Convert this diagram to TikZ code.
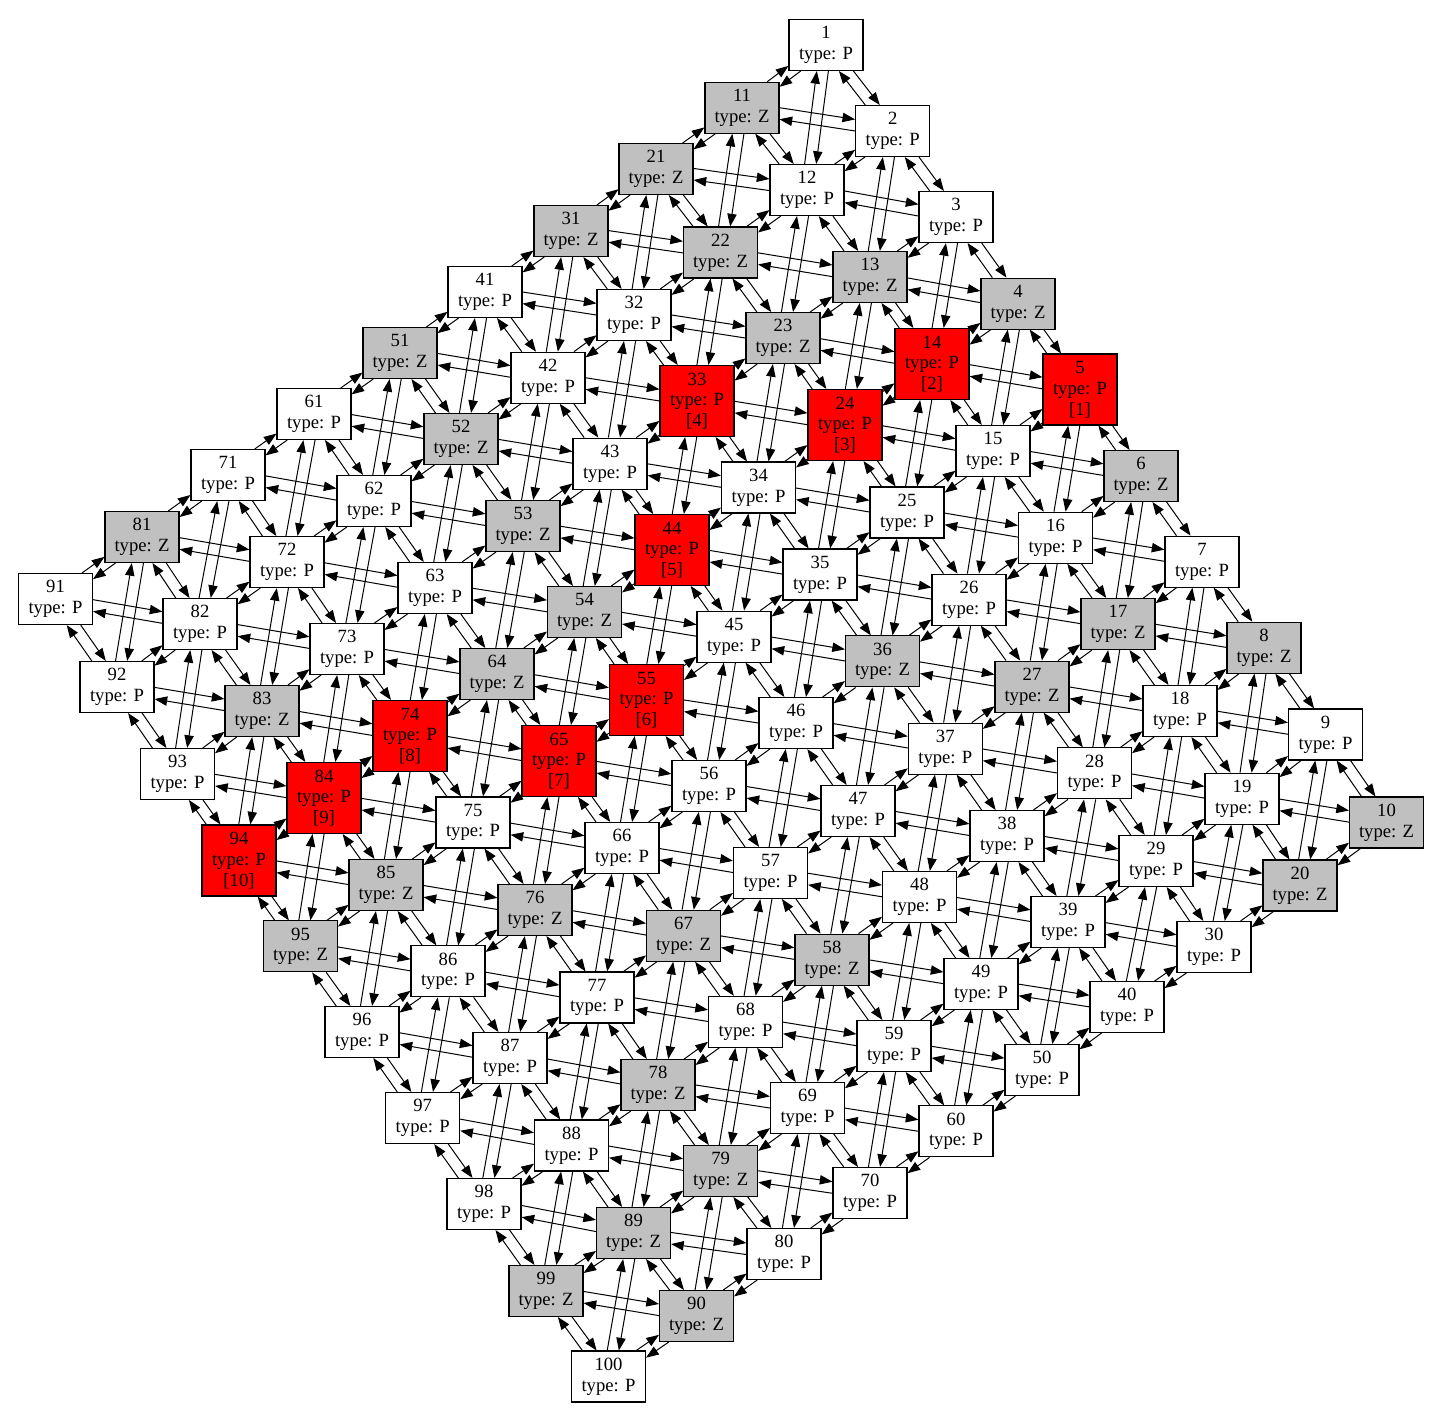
\documentclass[tikz,border=0pt]{standalone}
\usepackage{fontspec}
\setmainfont{Liberation Serif}
\usetikzlibrary{arrows.meta,calc}
\def\eoff{4.3}
\newcommand\onedge[2]{%
  \pgfpointanchor{n#1}{center}\pgfgetlastxy{\eAx}{\eAy}%
  \pgfpointanchor{n#1}{north east}\pgfgetlastxy{\eAX}{\eAY}%
  \pgfpointanchor{n#2}{center}\pgfgetlastxy{\eBx}{\eBy}%
  \pgfpointanchor{n#2}{north east}\pgfgetlastxy{\eBX}{\eBY}%
  \pgfmathsetmacro\eWa{\eAX-\eAx}%
  \pgfmathsetmacro\eHa{\eAY-\eAy}%
  \pgfmathsetmacro\eWb{\eBX-\eBx}%
  \pgfmathsetmacro\eHb{\eBY-\eBy}%
  \pgfmathsetmacro\eDx{\eBx-\eAx}%
  \pgfmathsetmacro\eDy{\eBy-\eAy}%
  \pgfmathsetmacro\eL{veclen(\eDx,\eDy)}%
  \pgfmathsetmacro\eUx{(\eDx)/(\eL)}%
  \pgfmathsetmacro\eUy{(\eDy)/(\eL)}%
  \pgfmathsetmacro\eNx{0-(\eUy)*\eoff}%
  \pgfmathsetmacro\eNy{(\eUx)*\eoff}%
  \pgfmathsetmacro\eSx{(\eUx)>0?1:-1}%
  \pgfmathsetmacro\eSy{(\eUy)>0?1:-1}%
  \pgfmathsetmacro\eAUx{max(abs(\eUx),0.01)}%
  \pgfmathsetmacro\eAUy{max(abs(\eUy),0.01)}%
  \pgfmathsetmacro\eTa{min(((\eWa)-(\eSx)*(\eNx))/(\eAUx),((\eHa)-(\eSy)*(\eNy))/(\eAUy))}%
  \pgfmathsetmacro\eTb{min(((\eWb)+(\eSx)*(\eNx))/(\eAUx),((\eHb)+(\eSy)*(\eNy))/(\eAUy))}%
  \draw[conn,shorten <=\eTa pt,shorten >=\eTb pt]
    ([shift={(\eNx pt,\eNy pt)}]n#1.center) -- ([shift={(\eNx pt,\eNy pt)}]n#2.center);%
}
\newcommand\biedge[2]{\onedge{#1}{#2}\onedge{#2}{#1}}
\tikzset{
  gbox/.style={rectangle,draw=black,line width=0.8pt,minimum width=55.5pt,minimum height=38.25pt,
    inner sep=0pt,align=center,font=\fontsize{14pt}{15.5pt}\selectfont},
  boxP/.style={gbox,fill=white},
  boxZ/.style={gbox,fill=graybox},
  boxR/.style={gbox,fill=red,minimum height=53.25pt},
  conn/.style={line width=0.75pt,-{Triangle[length=9.5pt,width=7pt]}}
}
\definecolor{graybox}{RGB}{192,192,192}
\begin{document}
\begin{tikzpicture}[x=0.75pt,y=-0.75pt]
\path[fill=white,use as bounding box] (0,0) rectangle (1443,1422);
\foreach \i/\x/\y/\t in {
1/826/45/P, 2/892.7/131/P, 3/956/217/P, 4/1018/303.6/Z, 6/1141/476/Z, 7/1202/561.6/P, 8/1264/647.7/Z, 9/1325.5/734.5/P, 10/1386.5/822.5/Z,
11/742/107.7/Z, 12/807/190/P, 13/870/277/Z, 15/993/451/P, 16/1055.5/537.7/P, 17/1118/624/Z, 18/1180/711/P, 19/1242/798.7/P, 20/1300/885.5/Z,
21/656/169/Z, 22/720.5/252.5/Z, 23/783/338/Z, 25/907/512.5/P, 26/969/599.6/P, 27/1032/686.6/Z, 28/1094.5/773.4/P, 29/1156/861/P, 30/1214/947/P,
31/571/231/Z, 32/634/315/P, 34/758.5/487.5/P, 35/820/574.5/P, 36/882.5/661.4/Z, 37/945.3/748.6/P, 38/1007/836/P, 39/1068/922/P, 40/1127/1007/P,
41/485/292/P, 42/548/377.7/P, 43/610/463.6/P, 45/734/636.6/P, 46/796/723/P, 47/858/811/P, 48/919.5/897/P, 49/981/984/P, 50/1042/1070/P,
51/400/353/Z, 52/461/439/Z, 53/523/526/Z, 54/584.5/612/Z, 56/709/786/P, 57/770.5/873/P, 58/832/959.6/Z, 59/894/1046/P, 60/956/1131.4/P,
61/314/414/P, 62/374/501/P, 63/435/588/P, 64/497/674/Z, 66/622/848/P, 67/683.5/935.7/Z, 68/745.5/1021.8/P, 69/807.5/1108/P, 70/870/1193/P,
71/228/475/P, 72/287/562/P, 73/347/649/P, 75/473/822.5/P, 76/535/910/Z, 77/597/997.5/P, 78/658/1085/Z, 79/720.7/1171/Z, 80/784/1254/P,
81/142/537/Z, 82/200/624/P, 83/262/711/Z, 85/386/885/Z, 86/448/971.4/P, 87/510/1058/P, 88/571.5/1145.5/P, 89/633.5/1233/Z, 90/696.5/1316/Z,
91/55.5/599/P, 92/117/687/P, 93/177.5/774/P, 95/300.5/946.4/Z, 96/362/1032/P, 97/422.7/1118/P, 98/484/1204/P, 99/546/1291/Z, 100/608.5/1376.5/P}
  {\node[box\t] (n\i) at (\x,\y) {\i\\type: \t};}
\foreach \i/\x/\y/\k in {5/1080/389.5/1, 14/932/364/2, 24/845/425/3, 33/697/401/4, 44/672/550/5,
  55/646.5/700/6, 65/559/761/7, 74/410/736/8, 84/324/798/9, 94/239/860.5/10}
  {\node[boxR] (n\i) at (\x,\y) {\i\\type: P\\{[\k]}};}
\foreach \r in {0,...,9}{
  \foreach \c in {1,...,10}{
    \pgfmathtruncatemacro\i{\r*10+\c}
    \pgfmathtruncatemacro\jr{\i+1}
    \pgfmathtruncatemacro\jd{\i+10}
    \pgfmathtruncatemacro\jg{\i+11}
    \pgfmathtruncatemacro\ja{\i+9}
    \ifnum\c<10 \biedge{\i}{\jr}\fi
    \ifnum\r<9 \biedge{\i}{\jd}\fi
    \ifnum\r<9 \ifnum\c<10 \biedge{\i}{\jg}\fi\fi
    \ifnum\r<9 \ifnum\c>1 \biedge{\i}{\ja}\fi\fi
  }
}
\end{tikzpicture}
\end{document}
